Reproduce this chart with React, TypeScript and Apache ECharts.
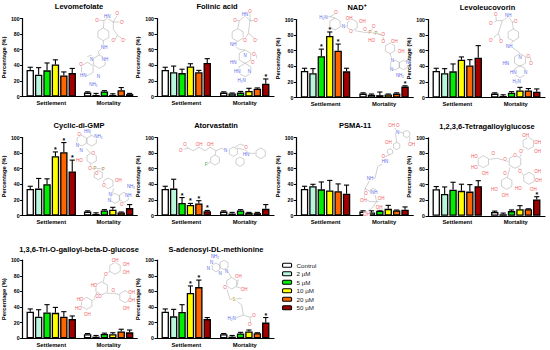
import React, { useEffect, useRef } from "react";
import * as echarts from "echarts";

const groups = ["Settlement", "Mortality"];
const doses = ["Control", "2 µM", "5 µM", "10 µM", "20 µM", "50 µM"];
const colors = ["#ffffff", "#b9f7dc", "#00ee00", "#ffff00", "#ff6600", "#a00000"];
const titles = ["Levomefolate", "Folinic acid", "NAD⁺", "Levoleucovorin", "Cyclic-di-GMP", "Atorvastatin", "PSMA-11", "1,2,3,6-Tetragalloylglucose", "1,3,6-Tri-O-galloyl-beta-D-glucose", "S-adenosyl-DL-methionine"];

const settlement = [
  [34, 28, 33.5, 41, 27, 30],
  [34, 31, 30, 38.5, 31, 43],
  [34, 31, 53, 79, 60, 33.5],
  [34, 31, 33.5, 48.5, 41, 51],
  [34, 34.5, 40, 76, 81, 56.5],
  [34, 34.5, 16, 13.5, 15.5, 5.5],
  [34, 37.5, 33.5, 32, 31, 28],
  [34, 28, 33.5, 32, 31, 38],
  [34, 27.5, 33, 32.5, 27.5, 24.5],
  [34, 28, 33.5, 58, 65.5, 24.5],
];
const settlementErr = [
  [3.5, 9, 9.5, 6, 4.5, 6],
  [3.5, 8, 5, 3.5, 2.5, 5.5],
  [3.5, 6, 9, 5, 8.5, 4],
  [3.5, 6, 9.5, 3.5, 7.5, 15.5],
  [3.5, 13, 7, 5.5, 12.5, 14.5],
  [3.5, 12, 7, 2, 3.5, 1],
  [3.5, 2.5, 9.5, 13, 9.5, 11],
  [3.5, 9, 9.5, 8.5, 9, 7],
  [3.5, 9, 10, 7, 6.5, 4],
  [3.5, 9, 9.5, 9, 9, 2],
];
const mortality = [
  [5, 2, 6.5, 2, 8, 3],
  [5, 4, 5, 7, 10, 16.5],
  [5, 3.5, 3, 4, 5, 14],
  [5, 2, 6, 9, 9, 7.5],
  [5, 2, 6.5, 7.5, 4, 9.5],
  [5, 2.5, 6.5, 3.5, 3, 8.5],
  [5, 4, 6, 8.5, 6.5, 7.5],
  [5, 2, 6, 8.5, 8.5, 21],
  [5, 2, 5.5, 5, 8.5, 7.5],
  [5, 2, 6, 8.5, 6.5, 20],
];
const mortalityErr = [
  [1, 2, 1, 1.5, 3.5, 1],
  [1, 0.5, 1.5, 3.5, 1, 6],
  [1, 1, 4, 0.5, 1, 1],
  [1, 1.5, 1.5, 4, 2.5, 3.5],
  [1, 1.5, 1, 3, 0.5, 4.5],
  [1, 1.5, 1, 0.5, 1, 5.5],
  [1, 2, 1, 4.5, 0.5, 3.5],
  [1, 1.5, 1.5, 4.5, 0.5, 3.5],
  [1, 1.5, 1, 2, 3, 3],
  [1, 1.5, 1.5, 2, 0.5, 6.5],
];
// [group index, dose index] of each significant bar
const stars = [
  [],
  [[1, 5]],
  [[0, 2], [0, 3], [0, 4], [1, 5]],
  [],
  [[0, 3], [0, 4], [0, 5]],
  [[0, 2], [0, 3], [0, 4], [0, 5]],
  [],
  [[1, 5]],
  [],
  [[0, 3], [0, 4], [1, 5]],
];

// panel layout, page pixels: axis x, y of 100, title centre x and y
const panelX = [20.3, 157, 296.3, 428, 20.3, 157, 296.3, 428, 20.3, 157];
const panelTop = [18.5, 18.5, 19.5, 19.5, 137.5, 137.5, 137.5, 137.8, 260.2, 260.2];
const titleX = [79, 217, 357, 487.5, 79, 216, 355, 487, 79, 216];
const titleY = [6.7, 6.7, 7.3, 7.3, 125, 125, 125, 126, 249.3, 249.3];
const PW = 117;
const PH = 78;
const PITCH = 8.4;

// Chemical structure sketches, in 3x crop coordinates: [origin x, origin y, rings, bonds, atoms]
type Mol = { ox: number; oy: number; rings: number[][]; bonds: number[][]; atoms: any[][] };
const R = "#f06060";
const B = "#5a6ae8";
const molecules: Mol[] = [
  { ox: 0, oy: 0, rings: [[310, 103, 19], [298, 185, 20], [262, 207, 20]], bonds: [[298, 60, 312, 62, 310, 84], [312, 62, 322, 55, 340, 66, 358, 66], [340, 66, 352, 45], [340, 66, 340, 88, 352, 105, 345, 120], [352, 105, 368, 118], [310, 122, 310, 140, 295, 155, 298, 165], [275, 165, 262, 170]],
    atoms: [[291, 60, "O", R], [322, 48, "HN", B], [352, 40, "O", R], [368, 68, "O⁻", R], [340, 122, "O", R], [372, 120, "O⁻", R], [313, 142, "NH", B], [275, 177, "N", B], [315, 178, "NH", B], [243, 192, "O", R], [250, 225, "HN", B], [295, 228, "N", B], [280, 252, "NH₂", B]] },
  { ox: 0, oy: 0, rings: [[713, 105, 19], [735, 170, 20], [735, 210, 20]], bonds: [[705, 60, 718, 62, 713, 86], [718, 62, 735, 48, 750, 62, 768, 62], [750, 62, 750, 38], [750, 62, 745, 100, 735, 116], [745, 100, 765, 116], [713, 124, 700, 135, 718, 148, 735, 150], [755, 160, 768, 163, 770, 175]],
    atoms: [[705, 60, "O", R], [735, 42, "HN", B], [750, 33, "O", R], [770, 62, "O⁻", R], [735, 120, "O", R], [768, 120, "O⁻", R], [700, 133, "NH", B], [735, 165, "N", B], [762, 163, "O", R], [758, 187, "O", R], [700, 187, "HN", B], [712, 213, "HN", B], [748, 213, "N", B], [725, 241, "H₂N", B]] },
  { ox: 275, oy: 0, rings: [[180, 72, 18], [232, 75, 17], [345, 145, 16], [360, 195, 15], [385, 195, 14]], bonds: [[145, 52, 165, 50, 180, 54], [165, 50, 183, 40], [198, 80, 215, 78], [240, 92, 268, 97, 283, 97, 303, 100, 325, 108, 325, 128], [285, 97, 296, 80], [303, 100, 322, 104], [345, 161, 352, 180]],
    atoms: [[145, 52, "H₂N", B], [183, 36, "O", R], [205, 80, "N", B], [222, 55, "OH", R], [262, 65, "OH", R], [228, 95, "O", R], [270, 88, "O", R], [285, 97, "P", "#b08040"], [303, 100, "P", "#b08040"], [296, 78, "O", R], [325, 104, "O", R], [290, 122, "HO", R], [325, 125, "O", R], [358, 125, "OH", R], [378, 155, "OH", R], [352, 180, "N", B], [350, 208, "N", B], [398, 188, "N", B], [375, 225, "NH₂", B]] },
  { ox: 275, oy: 0, rings: [[715, 105, 18], [735, 180, 19], [735, 215, 18]], bonds: [[722, 65, 712, 66, 715, 87], [712, 66, 700, 50, 682, 62, 664, 62], [664, 62, 650, 70], [664, 62, 662, 44], [682, 62, 670, 100, 678, 122], [670, 100, 650, 118], [715, 123, 703, 136, 720, 148, 735, 160], [754, 170, 766, 172, 768, 185]],
    atoms: [[650, 70, "O⁻", R], [662, 42, "O", R], [700, 45, "NH", B], [722, 65, "O", R], [650, 120, "O⁻", R], [678, 125, "O", R], [703, 138, "NH", B], [735, 172, "N", B], [760, 170, "O", R], [768, 190, "O", R], [692, 190, "HN", B], [715, 218, "HN", B], [752, 218, "N", B], [725, 245, "H₂N", B]] },
  { ox: 0, oy: 120, rings: [[245, 62, 16], [275, 62, 16], [275, 115, 16], [295, 165, 14], [325, 190, 16], [345, 235, 15], [372, 232, 15]], bonds: [[238, 42, 245, 46], [262, 35, 275, 46], [295, 50, 283, 48], [258, 85, 272, 100], [270, 130, 275, 145, 285, 145, 310, 147], [340, 205, 338, 220]],
    atoms: [[238, 42, "O", R], [262, 35, "HN", B], [295, 50, "NH₂", B], [232, 75, "N", B], [243, 90, "N", B], [280, 100, "O", R], [238, 122, "HO", R], [270, 145, "O", R], [285, 145, "P", "#b08040"], [310, 147, "P", "#b08040"], [290, 160, "O", R], [312, 195, "O", R], [355, 182, "OH", R], [330, 222, "N", B], [328, 240, "N", B], [393, 200, "NH₂", B], [385, 225, "NH", B], [365, 252, "O", R]] },
  { ox: 0, oy: 120, rings: [[782, 100, 16], [720, 125, 14], [645, 120, 15], [700, 95, 14]], bonds: [[548, 88, 565, 85, 580, 92, 597, 82, 615, 92, 630, 82, 648, 92, 665, 85, 680, 92], [555, 75, 565, 85], [597, 82, 597, 76], [630, 82, 630, 76], [648, 92, 645, 105], [705, 82, 720, 72, 735, 78], [712, 85, 738, 90, 745, 100, 766, 100], [738, 90, 738, 84], [630, 128, 620, 132]],
    atoms: [[555, 72, "O", R], [545, 92, "O⁻", R], [597, 73, "OH", R], [630, 73, "OH", R], [677, 92, "N", B], [738, 82, "O", R], [738, 103, "HN", B], [618, 132, "F", "#40a040"]] },
  { ox: 275, oy: 120, rings: [[395, 42, 11], [365, 78, 11], [345, 95, 9], [295, 215, 10]], bonds: [[352, 15, 365, 32, 385, 40], [365, 32, 362, 42, 365, 67], [405, 50, 402, 75], [345, 104, 325, 112, 325, 130, 308, 140, 300, 175, 290, 172, 270, 205], [270, 205, 285, 215], [300, 225, 305, 245, 290, 265, 270, 280], [270, 205, 268, 235, 285, 245, 305, 245], [305, 245, 320, 240]],
    atoms: [[350, 17, "OH", R], [368, 16, "O", R], [368, 38, "N", B], [410, 72, "OH", R], [340, 68, "OH", R], [325, 110, "O", R], [330, 125, "HN", B], [285, 175, "NH", B], [273, 220, "O", R], [298, 218, "NH", B], [265, 240, "OH", R], [318, 235, "OH", R], [312, 262, "OH", R], [275, 282, "OH", R]] },
  { ox: 275, oy: 120, rings: [[625, 125, 18], [720, 125, 20], [760, 70, 18], [695, 190, 18], [762, 175, 18]], bonds: [[643, 118, 665, 115, 685, 120, 700, 125], [655, 108, 658, 105], [735, 110, 745, 88], [705, 142, 697, 172], [730, 143, 745, 165]],
    atoms: [[655, 100, "O", R], [690, 118, "O", R], [720, 105, "O", R], [738, 95, "O", R], [598, 110, "HO", R], [598, 142, "HO", R], [630, 160, "OH", R], [752, 45, "OH", R], [788, 67, "OH", R], [788, 95, "OH", R], [658, 208, "HO", R], [690, 225, "OH", R], [730, 205, "HO", R], [788, 155, "OH", R], [790, 180, "OH", R], [775, 208, "OH", R], [690, 160, "O", R], [735, 155, "O", R]] },
  { ox: 0, oy: 240, rings: [[345, 85, 18], [305, 145, 20], [260, 190, 18], [375, 170, 18]], bonds: [[330, 95, 315, 100, 310, 125], [320, 160, 345, 160, 358, 165], [290, 158, 282, 178, 277, 182]],
    atoms: [[345, 60, "OH", R], [378, 72, "OH", R], [378, 98, "OH", R], [318, 102, "O", R], [282, 135, "HO", R], [300, 170, "O", R], [340, 150, "O", R], [292, 170, "O", R], [240, 178, "HO", R], [235, 204, "HO", R], [262, 222, "OH", R], [395, 157, "OH", R], [395, 182, "OH", R], [378, 205, "OH", R]] },
  { ox: 0, oy: 240, rings: [[648, 82, 13], [672, 75, 14], [695, 130, 17]], bonds: [[680, 90, 695, 113], [680, 145, 690, 178, 705, 178, 725, 195, 730, 225, 750, 232], [730, 225, 705, 235], [750, 232, 752, 252], [750, 232, 760, 228], [712, 135, 715, 118], [708, 140, 725, 145], [705, 178, 725, 175]],
    atoms: [[645, 50, "NH₂", B], [635, 68, "N", B], [625, 85, "N", B], [660, 100, "N", B], [680, 95, "N", B], [715, 108, "OH", R], [732, 147, "OH", R], [675, 142, "O", R], [705, 178, "S⁺", "#b0a020"], [762, 225, "O", R], [695, 235, "H₂N", B], [752, 254, "O⁻", R]] },
];

function hexPoints(c: number[], ox: number, oy: number) {
  const pts: number[][] = [];
  for (let i = 0; i < 6; i++) {
    const a = Math.PI / 6 + (i * Math.PI) / 3;
    pts.push([ox + (c[0] + c[2] * Math.cos(a)) / 3, oy + (c[1] + c[2] * Math.sin(a)) / 3]);
  }
  return pts;
}

function molGraphics() {
  const els: any[] = [];
  for (const m of molecules) {
    for (const r of m.rings) {
      els.push({ type: "polygon", silent: true, z: 5, shape: { points: hexPoints(r, m.ox, m.oy) }, style: { fill: "none", stroke: "#a0a0a0", lineWidth: 0.5 } });
    }
    for (const b of m.bonds) {
      const pts: number[][] = [];
      for (let i = 0; i < b.length; i += 2) pts.push([m.ox + b[i] / 3, m.oy + b[i + 1] / 3]);
      els.push({ type: "polyline", silent: true, z: 5, shape: { points: pts }, style: { fill: "none", stroke: "#a0a0a0", lineWidth: 0.5 } });
    }
    for (const a of m.atoms) {
      els.push({ type: "text", silent: true, z: 6, x: m.ox + a[0] / 3, y: m.oy + a[1] / 3, style: { text: a[2], fill: a[3], font: "4.5px 'Liberation Sans'", align: "center", verticalAlign: "middle", backgroundColor: "#fff" } });
    }
  }
  return els;
}

function renderErr(_: any, api: any) {
  const cat = api.value(0);
  const idx = api.value(1);
  const val = api.value(2);
  const err = api.value(3);
  const star = api.value(4);
  const base = api.coord([cat, val]);
  const top = api.coord([cat, val + err]);
  const x = base[0] + (idx - 2.5) * PITCH;
  const st = { stroke: "#000", lineWidth: 1.1 };
  const children: any[] = [
    { type: "line", shape: { x1: x, y1: base[1], x2: x, y2: top[1] }, style: st },
    { type: "line", shape: { x1: x - 2.6, y1: top[1], x2: x + 2.6, y2: top[1] }, style: st },
  ];
  if (star) {
    children.push({ type: "text", x, y: top[1] - 2.5, style: { text: "*", fill: "#000", font: "bold 7px 'Liberation Sans'", align: "center", verticalAlign: "middle" } });
  }
  return { type: "group", children };
}

function buildOption() {
  const FONT = "'Liberation Sans', Arial, sans-serif";
  const series: any[] = [];
  titles.forEach((_, p) => {
    doses.forEach((d, k) => {
      series.push({
        type: "bar", name: d, xAxisIndex: p, yAxisIndex: p,
        data: [settlement[p][k], mortality[p][k]],
        barWidth: 7.4, barGap: "13.5%",
        itemStyle: { color: colors[k], borderColor: "#000", borderWidth: 1.3 },
        silent: true,
      });
    });
    const errData: number[][] = [];
    doses.forEach((_d, k) => {
      const isStar = (g: number) => (stars[p].some((s) => s[0] === g && s[1] === k) ? 1 : 0);
      errData.push([0, k, settlement[p][k], settlementErr[p][k], isStar(0)]);
      errData.push([1, k, mortality[p][k], mortalityErr[p][k], isStar(1)]);
    });
    series.push({
      type: "custom", xAxisIndex: p, yAxisIndex: p, renderItem: renderErr, data: errData,
      encode: { x: 0, y: 2 }, clip: false, silent: true, z: 1,
    });
  });
  return {
    animation: false,
    backgroundColor: "#fff",
    textStyle: { fontFamily: FONT },
    title: titles.map((t, p) => ({
      text: t, left: titleX[p], top: titleY[p] - 5, textAlign: "center", padding: 0,
      textStyle: { fontSize: 7.5, fontWeight: "bold", color: "#000", fontFamily: FONT, lineHeight: 10 },
    })),
    legend: {
      data: doses, orient: "vertical", left: 282, top: 262.3, itemWidth: 9, itemHeight: 4, itemGap: 2.5, padding: 0,
      textStyle: { fontSize: 6.2, color: "#222", fontFamily: FONT },
      itemStyle: { borderColor: "#000", borderWidth: 1.1 }, selectedMode: false,
    },
    grid: titles.map((_, p) => ({ left: panelX[p], top: panelTop[p], width: PW, height: PH })),
    xAxis: titles.map((_, p) => ({
      type: "category", gridIndex: p, data: groups,
      axisLine: { lineStyle: { color: "#000", width: 1.2 } },
      axisTick: { alignWithLabel: true, length: 2.5, lineStyle: { color: "#000", width: 1 } },
      axisLabel: { fontSize: 5.8, fontWeight: "bold", color: "#000", margin: 3.5, fontFamily: FONT },
    })),
    yAxis: titles.map((_, p) => ({
      type: "value", gridIndex: p, min: 0, max: 100, interval: 20,
      name: "Percentage (%)", nameLocation: "middle", nameGap: 15,
      nameTextStyle: { fontSize: 5.8, fontWeight: "bold", color: "#000", fontFamily: FONT },
      axisLine: { show: true, lineStyle: { color: "#000", width: 1.2 } },
      axisTick: { show: true, length: 2.5, lineStyle: { color: "#000", width: 1 } },
      axisLabel: { fontSize: 5.2, fontWeight: "bold", color: "#000", margin: 3, fontFamily: FONT },
      splitLine: { show: false },
    })),
    graphic: molGraphics(),
    series,
  };
}

export default function App() {
  const ref = useRef<HTMLDivElement>(null);
  useEffect(() => {
    const chart = echarts.init(ref.current!, null, { renderer: "svg" });
    chart.setOption(buildOption() as any);
    return () => chart.dispose();
  }, []);
  return <div ref={ref} style={{ position: "fixed", left: 0, top: 0, width: 550, height: 350 }} />;
}
